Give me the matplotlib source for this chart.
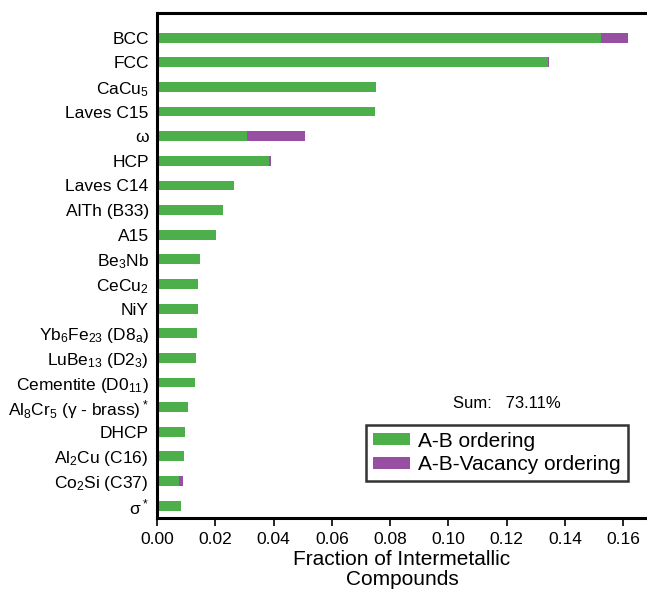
import matplotlib
matplotlib.use("Agg")
import matplotlib.pyplot as plt
import numpy as np

plt.rcParams["font.family"] = ["Liberation Sans", "DejaVu Sans"]
plt.rcParams["mathtext.fontset"] = "custom"
plt.rcParams["mathtext.rm"] = "Liberation Sans"
plt.rcParams["mathtext.default"] = "regular"

# Structure prototypes, top to bottom
structures = [
    "BCC", "FCC", "CaCu$_5$", "Laves C15", "ω", "HCP", "Laves C14",
    "AlTh (B33)", "A15", "Be$_3$Nb", "CeCu$_2$", "NiY",
    "Yb$_6$Fe$_{23}$ (D8$_a$)", "LuBe$_{13}$ (D2$_3$)", "Cementite (D0$_{11}$)",
    "Al$_8$Cr$_5$ (γ - brass)$^*$", "DHCP", "Al$_2$Cu (C16)",
    "Co$_2$Si (C37)", "σ$^*$",
]
ab_ordering = [
    0.1524, 0.1343, 0.0752, 0.0748, 0.0308, 0.0386, 0.0264,
    0.0226, 0.0203, 0.0148, 0.0141, 0.0141,
    0.0137, 0.0134, 0.0130,
    0.0106, 0.0096, 0.0093,
    0.0076, 0.0082,
]
vacancy_ordering = [
    0.0093, 0.0004, 0.0, 0.0, 0.0200, 0.0005, 0.0,
    0.0, 0.0, 0.0, 0.0, 0.0,
    0.0, 0.0, 0.0,
    0.0, 0.0, 0.0,
    0.0013, 0.0,
]
total_text = "Sum:   73.11%"
xticks = [0.00, 0.02, 0.04, 0.06, 0.08, 0.10, 0.12, 0.14, 0.16]

green = "#4daf4a"
purple = "#984ea3"

fig = plt.figure(figsize=(6.47, 5.92), dpi=100)
ax = fig.add_axes([157 / 647, 1 - 518 / 592, 1 - 157 / 647, (518 - 13) / 592])

y = np.arange(len(structures))
ax.barh(y, ab_ordering, height=0.4, color=green, label="A-B ordering")
ax.barh(y, vacancy_ordering, left=ab_ordering, height=0.4, color=purple,
        label="A-B-Vacancy ordering")

ax.set_yticks(y)
ax.set_yticklabels(structures, fontsize=12.5)
ax.set_ylim(len(structures) - 0.5, -1.0)
ax.set_xlim(0, 0.1682)
ax.set_xticks(xticks)
ax.set_xticklabels([f"{t:.2f}" for t in xticks], fontsize=12.5)
ax.tick_params(axis="y", length=0, pad=6)
ax.tick_params(axis="x", direction="out", length=6, width=1.2, pad=4)

for side in ["left", "bottom", "top"]:
    ax.spines[side].set_linewidth(2.2)
ax.spines["right"].set_visible(False)

ax.set_xlabel("Fraction of Intermetallic\nCompounds", fontsize=15, labelpad=2,
              linespacing=1.12)

ax.text(0.1202, 14.84, total_text, fontsize=12, ha="center", va="center")

leg = ax.legend(loc="upper left", bbox_to_anchor=((366 - 157) / 490, (518 - 425) / 505),
                fontsize=15, frameon=True, fancybox=False, borderpad=0.32,
                handlelength=1.8, handleheight=0.5, handletextpad=0.4,
                labelspacing=0.22, borderaxespad=0)
leg.get_frame().set_edgecolor("black")
leg.get_frame().set_linewidth(1.8)

fig.savefig("out.png", dpi=100)
